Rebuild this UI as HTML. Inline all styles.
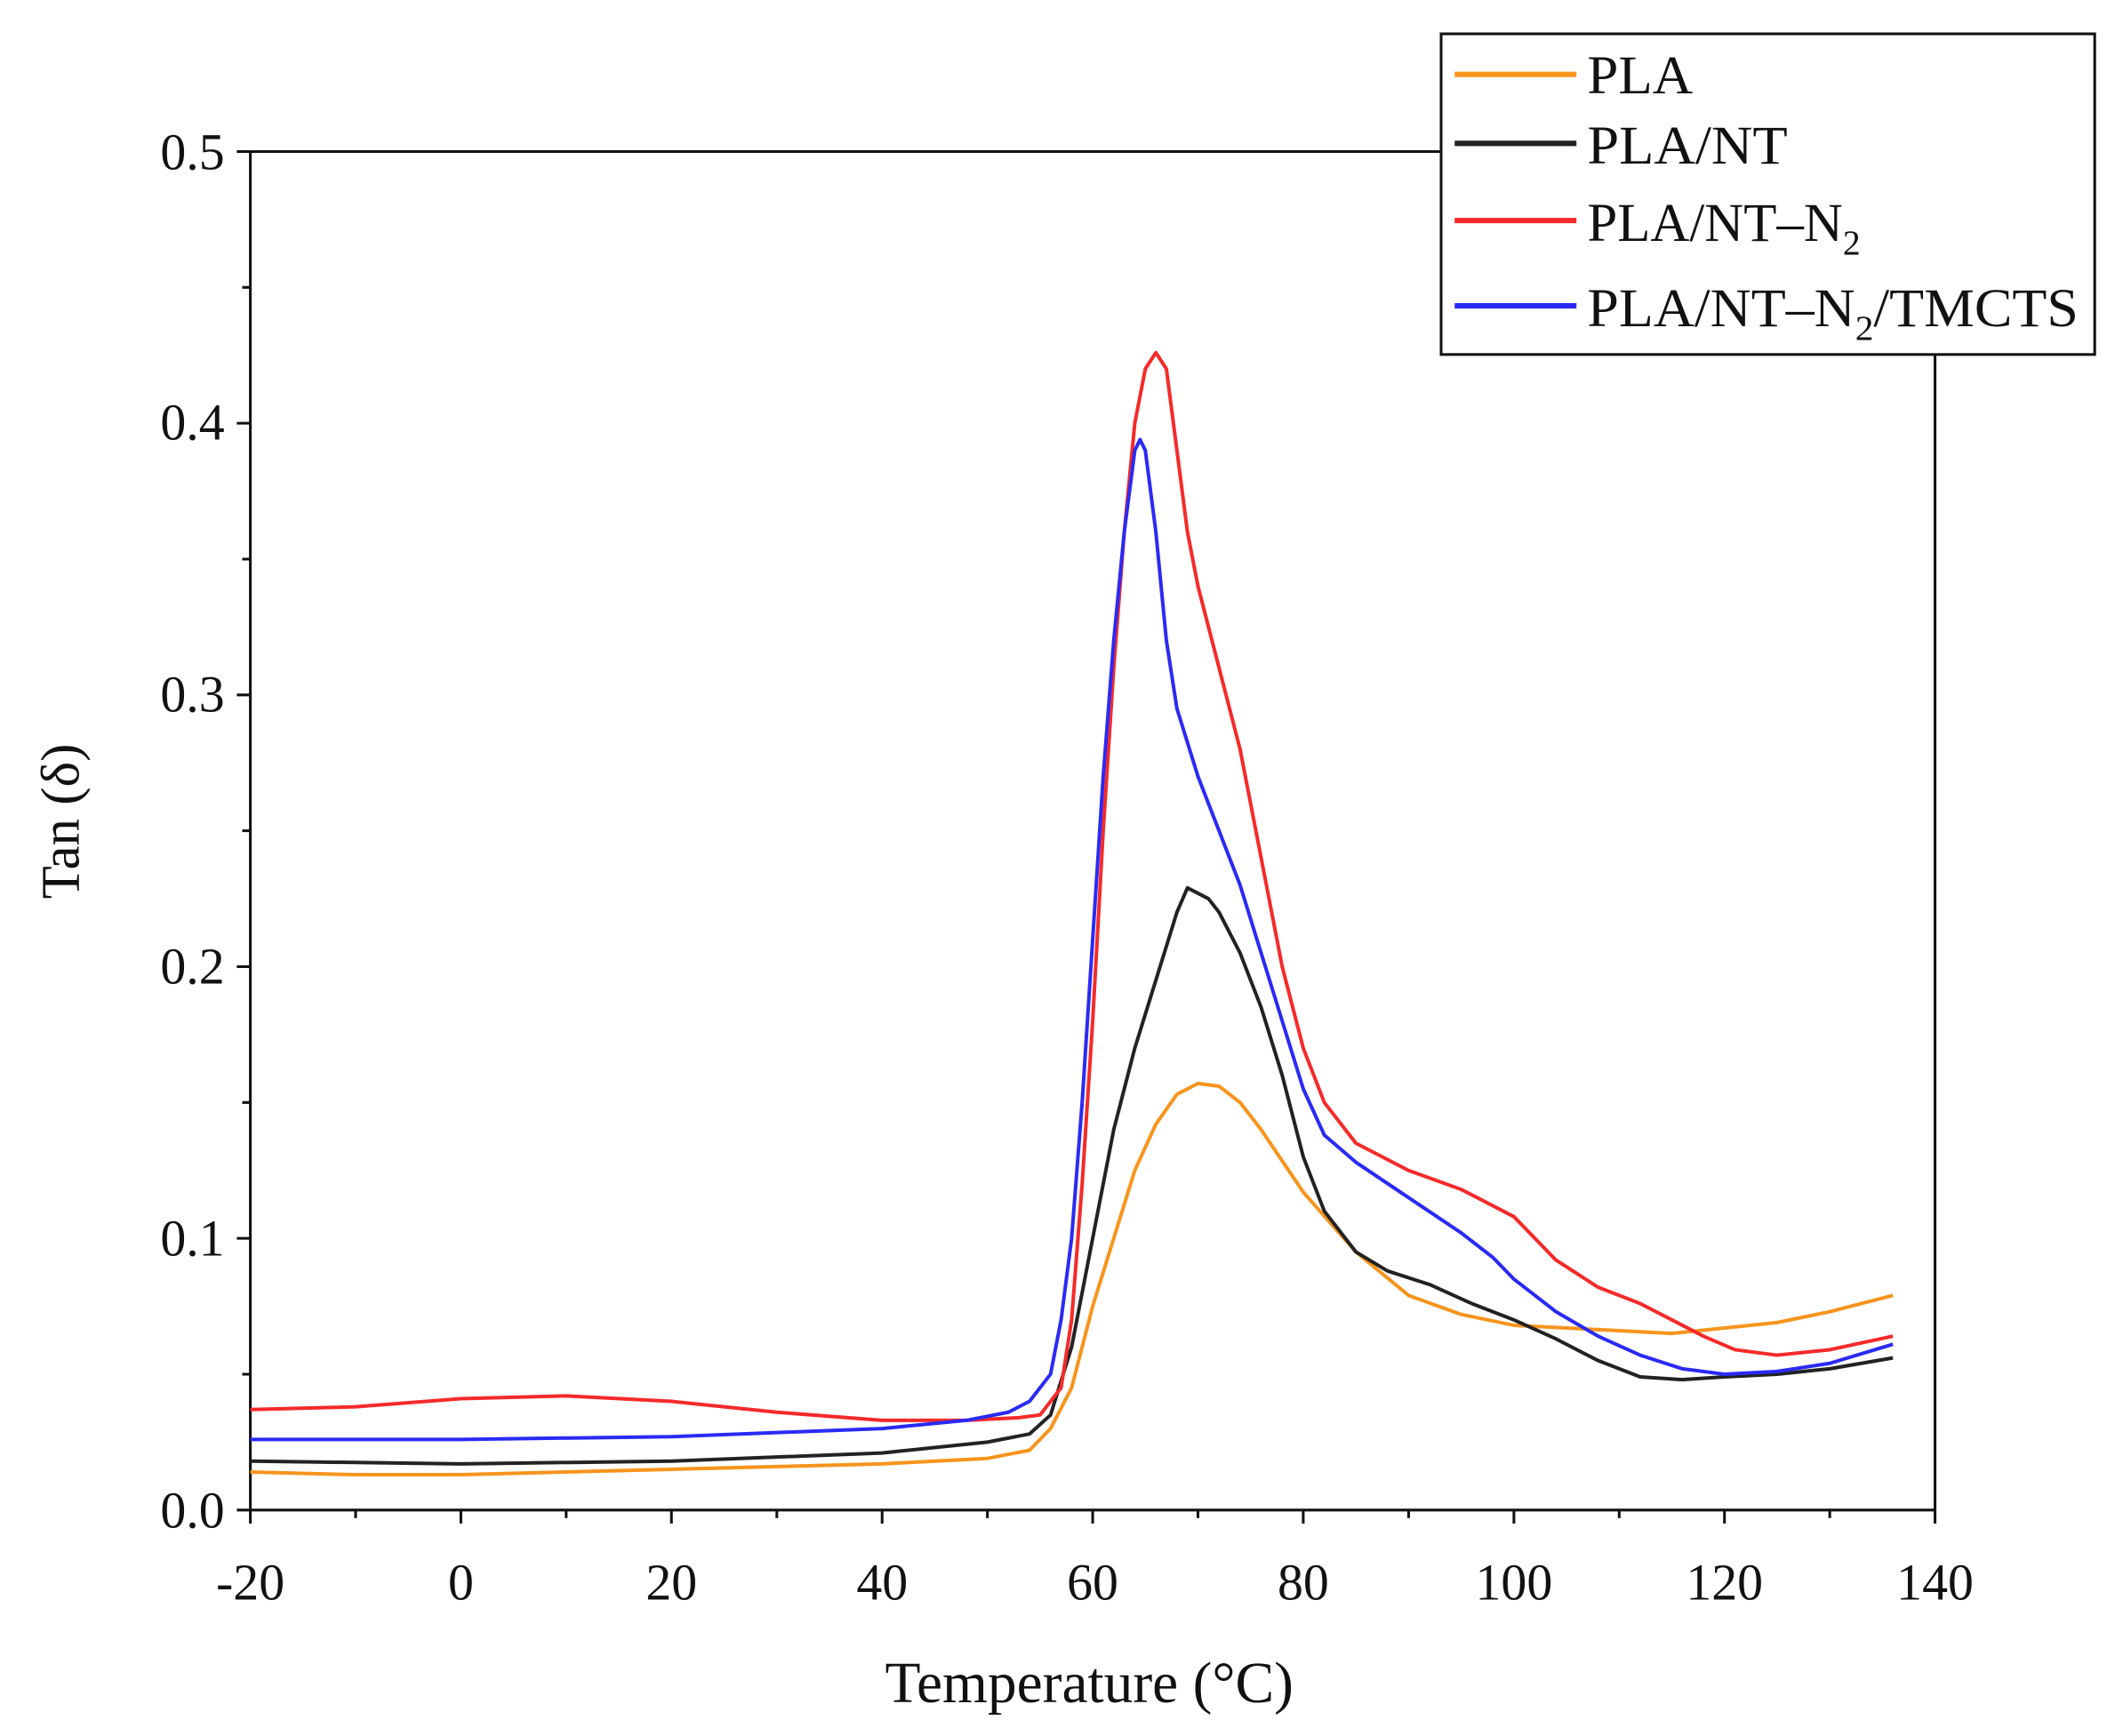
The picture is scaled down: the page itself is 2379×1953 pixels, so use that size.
<!DOCTYPE html>
<html><head><meta charset="utf-8"><style>
html,body{margin:0;padding:0;background:#fff;}
svg{display:block;}
text{font-family:"Liberation Serif",serif;fill:#111;}
</style></head><body>
<svg width="2379" height="1953" viewBox="0 0 1563 1283" preserveAspectRatio="none" xmlns="http://www.w3.org/2000/svg">
<rect width="1563" height="1283" fill="#fff"/>
<g stroke="#111" stroke-width="2" fill="none">
<path d="M185,112 V1116 H1430 V262"/>
<path d="M185,112 H1065"/>
<path d="M185,1116v10 M340.6,1116v10 M496.2,1116v10 M651.9,1116v10 M807.5,1116v10 M963.1,1116v10 M1118.8,1116v10 M1274.4,1116v10 M1430,1116v10"/>
<path d="M262.8,1116v6 M418.4,1116v6 M574.1,1116v6 M729.7,1116v6 M885.3,1116v6 M1041,1116v6 M1196.6,1116v6 M1352.2,1116v6"/>
<path d="M185,1116h-10 M185,915.2h-10 M185,714.4h-10 M185,513.6h-10 M185,312.8h-10 M185,112h-10"/>
<path d="M185,1015.6h-6 M185,814.8h-6 M185,614h-6 M185,413.2h-6 M185,212.4h-6"/>
</g>
<g font-size="38" text-anchor="end">
<text x="166" y="1129">0.0</text>
<text x="166" y="928">0.1</text>
<text x="166" y="727">0.2</text>
<text x="166" y="526">0.3</text>
<text x="166" y="325">0.4</text>
<text x="166" y="125">0.5</text>
</g>
<g font-size="38" text-anchor="middle">
<text x="185" y="1182">-20</text>
<text x="340.6" y="1182">0</text>
<text x="496.2" y="1182">20</text>
<text x="651.9" y="1182">40</text>
<text x="807.5" y="1182">60</text>
<text x="963.1" y="1182">80</text>
<text x="1118.8" y="1182">100</text>
<text x="1274.4" y="1182">120</text>
<text x="1430" y="1182">140</text>
</g>
<text x="805" y="1258" font-size="43" text-anchor="middle">Temperature (°C)</text>
<text transform="translate(58,607) rotate(-90)" font-size="40" text-anchor="middle">Tan (δ)</text>
<g transform="translate(340.625,1116) scale(7.78125,-2008)" fill="none" stroke-width="4" stroke-linejoin="round">
<polyline vector-effect="non-scaling-stroke" stroke="#f7941d" points="-20,0.014 -10,0.013 0,0.013 20,0.015 40,0.017 50,0.019 54,0.022 56,0.03 58,0.045 60,0.075 62,0.1 64,0.125 66,0.142 68,0.153 70,0.157 72,0.156 74,0.15 76,0.14 80,0.117 85,0.095 90,0.079 95,0.072 100,0.068 110,0.066 115,0.065 120,0.067 125,0.069 130,0.073 136,0.079"/>
<polyline vector-effect="non-scaling-stroke" stroke="#222" points="-20,0.018 0,0.017 20,0.018 40,0.021 50,0.025 54,0.028 56,0.035 58,0.06 60,0.1 62,0.14 64,0.17 66,0.195 68,0.22 69,0.229 70,0.227 71,0.225 72,0.22 74,0.205 76,0.185 78,0.16 80,0.13 82,0.11 85,0.095 88,0.088 92,0.083 96,0.076 100,0.07 104,0.063 108,0.055 112,0.049 116,0.048 120,0.049 125,0.05 130,0.052 136,0.056"/>
<polyline vector-effect="non-scaling-stroke" stroke="#f52a2a" points="-20,0.037 -10,0.038 0,0.041 10,0.042 20,0.04 30,0.036 40,0.033 48,0.033 53,0.034 55,0.035 57,0.045 58,0.07 59,0.12 60,0.18 61,0.25 62,0.31 63,0.36 64,0.4 65,0.42 66,0.426 67,0.42 68,0.39 69,0.36 70,0.34 72,0.31 74,0.28 76,0.24 78,0.2 80,0.17 82,0.15 85,0.135 90,0.125 95,0.118 100,0.108 102,0.1 104,0.092 108,0.082 112,0.076 115,0.07 118,0.064 121,0.059 125,0.057 130,0.059 136,0.064"/>
<polyline vector-effect="non-scaling-stroke" stroke="#2a2af5" points="-20,0.026 0,0.026 20,0.027 40,0.03 48,0.033 52,0.036 54,0.04 56,0.05 57,0.07 58,0.1 59,0.15 60,0.21 61,0.27 62,0.32 63,0.36 64,0.39 64.5,0.394 65,0.39 66,0.36 67,0.32 68,0.295 70,0.27 72,0.25 74,0.23 76,0.205 78,0.18 80,0.155 82,0.138 85,0.128 90,0.115 95,0.102 98,0.093 100,0.085 104,0.073 108,0.064 112,0.057 116,0.052 120,0.05 125,0.051 130,0.054 136,0.061"/>
</g>
<rect x="1065" y="25" width="483" height="237" fill="#fff" stroke="#111" stroke-width="2"/>
<g stroke-width="4">
<line x1="1075" y1="55" x2="1165" y2="55" stroke="#f7941d"/>
<line x1="1075" y1="106" x2="1165" y2="106" stroke="#222"/>
<line x1="1075" y1="163" x2="1165" y2="163" stroke="#f52a2a"/>
<line x1="1075" y1="226" x2="1165" y2="226" stroke="#2a2af5"/>
</g>
<g font-size="40">
<text x="1173" y="69" textLength="78" lengthAdjust="spacingAndGlyphs">PLA</text>
<text x="1173" y="121" textLength="148" lengthAdjust="spacingAndGlyphs">PLA/NT</text>
<text x="1173" y="178">PLA/NT–N<tspan font-size="26" dy="10">2</tspan></text>
<text x="1173" y="241" textLength="363" lengthAdjust="spacingAndGlyphs">PLA/NT–N<tspan font-size="26" dy="10">2</tspan><tspan dy="-10">/TMCTS</tspan></text>
</g>
</svg>
</body></html>
